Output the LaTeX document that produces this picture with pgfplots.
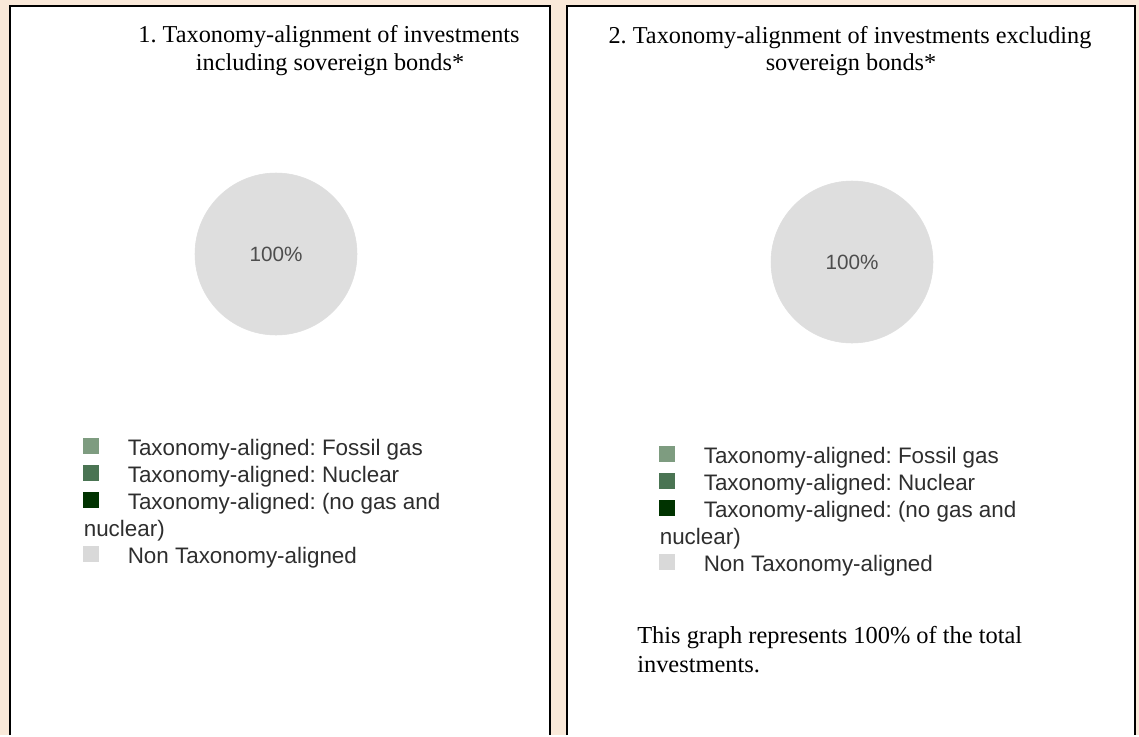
\documentclass[border=0pt]{standalone}
\usepackage{fontspec}
\setmainfont{Liberation Serif}
\newfontfamily\sansf{Liberation Sans}
\usepackage{pgfplots}
\pgfplotsset{compat=1.18}
\frenchspacing
\definecolor{bgpeach}{HTML}{FAE9D9}
\definecolor{piegray}{HTML}{DEDEDE}
\definecolor{pietext}{HTML}{4D4D4D}
\definecolor{legtext}{HTML}{2E2E2E}
\definecolor{cgas}{HTML}{7E9C80}
\definecolor{cnuc}{HTML}{4A7453}
\definecolor{cother}{HTML}{003300}
\definecolor{cnon}{HTML}{D9D9D9}
\pgfplotsset{
  panel/.style={
    at={(0,0)}, anchor=south west, scale only axis,
    width=854.25pt, height=551.25pt,
    xmin=0, xmax=1139, ymin=0, ymax=735, y dir=reverse,
    hide axis, clip=false,
    legend cell align=left,
    legend style={draw=none, fill=none, anchor=north west,
      font=\sansf\fontsize{16.8}{19}\selectfont\color{legtext},
      nodes={inner sep=0pt, text height=15pt, text depth=5.25pt},
      column sep=21.75pt, row sep=0pt},
  },
  piestyle/.style={only marks, mark=*, mark size=60.75pt,
    mark options={fill=piegray, draw=piegray},
    point meta=explicit,
    nodes near coords={\pgfmathprintnumber[assume math mode=true]{\pgfplotspointmeta}\%},
    nodes near coords align={center},
    every node near coord/.append style={anchor=center, text=pietext,
      font=\sansf\fontsize{15.5}{18}\selectfont},
    forget plot},
}
\newcommand{\sq}[1]{\addlegendimage{legend image code/.code={\fill[#1] (0pt,-2.5pt) rectangle (11.25pt,8.75pt);}}}
\newcommand{\ttl}{\fontsize{18.2}{21}\selectfont}
\begin{document}
\begin{tikzpicture}[x=0.75pt,y=0.75pt]
\fill[bgpeach] (0,0) rectangle (1139,735);
\fill[white] (10,0) rectangle (550,729);
\draw[line width=1.5pt] (10,0) -- (10,729) -- (550,729) -- (550,0);
\fill[white] (567,0) rectangle (1135,729);
\draw[line width=1.5pt] (567,0) -- (567,729) -- (1135,729) -- (1135,0);

\begin{axis}[panel, legend style={at={(axis cs:79,433)}}]
\addplot[piestyle] coordinates {(276,254) [100]};
\sq{cgas}\addlegendentry{Taxonomy-aligned: Fossil gas}
\sq{cnuc}\addlegendentry{Taxonomy-aligned: Nuclear}
\sq{cother}\addlegendentry{Taxonomy-aligned: (no gas and}
\addlegendimage{empty legend}\addlegendentry{\hspace*{-33pt}nuclear)}
\sq{cnon}\addlegendentry{Non Taxonomy-aligned}
\node[anchor=base, font=\ttl] at (axis cs:329,42) {1. Taxonomy-alignment of investments};
\node[anchor=base, font=\ttl] at (axis cs:330,70) {including sovereign bonds*};
\end{axis}

\begin{axis}[panel, legend style={at={(axis cs:655,441)}}]
\addplot[piestyle] coordinates {(852,262) [100]};
\sq{cgas}\addlegendentry{Taxonomy-aligned: Fossil gas}
\sq{cnuc}\addlegendentry{Taxonomy-aligned: Nuclear}
\sq{cother}\addlegendentry{Taxonomy-aligned: (no gas and}
\addlegendimage{empty legend}\addlegendentry{\hspace*{-33pt}nuclear)}
\sq{cnon}\addlegendentry{Non Taxonomy-aligned}
\node[anchor=base, font=\ttl] at (axis cs:850,43) {2. Taxonomy-alignment of investments excluding};
\node[anchor=base, font=\ttl] at (axis cs:851,70) {sovereign bonds*};
\node[anchor=base west, inner sep=0pt, font=\fontsize{18.3}{21}\selectfont] at (axis cs:637,643) {This graph represents 100\% of the total};
\node[anchor=base west, inner sep=0pt, font=\fontsize{18.3}{21}\selectfont] at (axis cs:637,672) {investments.};
\end{axis}
\end{tikzpicture}
\end{document}
